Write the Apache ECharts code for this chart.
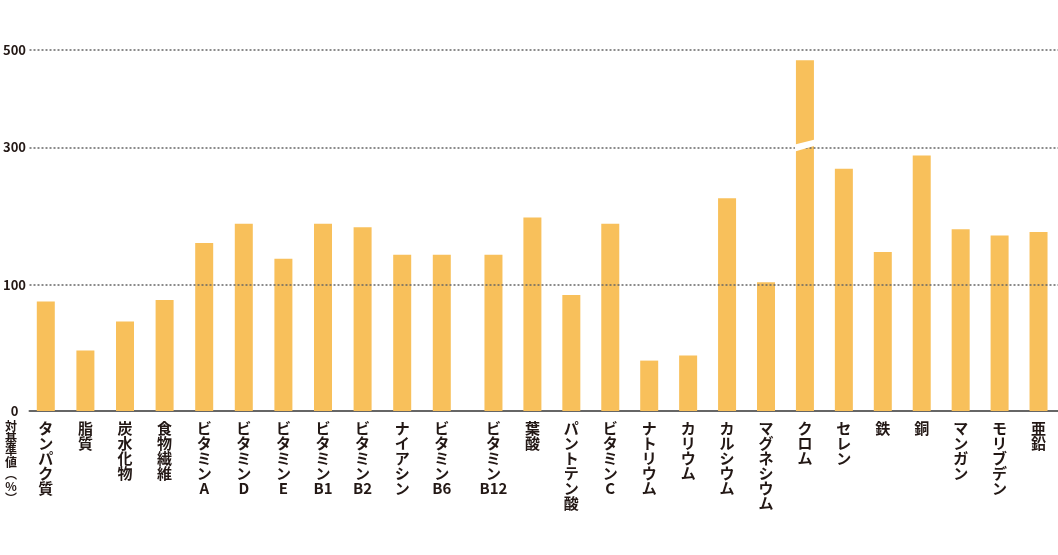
<!DOCTYPE html>
<html><head><meta charset="utf-8">
<script src="https://cdn.jsdelivr.net/npm/echarts@6/dist/echarts.min.js"></script>
<style>html,body{margin:0;padding:0;background:#fff}#c{width:1058px;height:555px}</style>
</head><body><div id="c"></div>
<script>
// ---- data ----
const categories = ['タンパク質','脂質','炭水化物','食物繊維','ビタミンA','ビタミンD','ビタミンE','ビタミンB1','ビタミンB2','ナイアシン','ビタミンB6','ビタミンB12','葉酸','パントテン酸','ビタミンC','ナトリウム','カリウム','カルシウム','マグネシウム','クロム','セレン','鉄','銅','マンガン','モリブデン','亜鉛'];
const values = [87,48,71,88,161,189,138,189,184,144,144,144,198,92,189,40,44,226,104,479,269,148,288,181,172,177];
const yTicks = [0,100,300,500];
const yTitleChars = ['対','基','準','値','︵','%','︶'];
const breakCategory = 'クロム';
const breakEdges = [294,306,303,316]; // bottom-left, top-left, bottom-right, top-right (value units)

// ---- non-linear (piecewise) axis scale of the original chart ----
const scaleAnchors = [0,126,263.7,361];
function tf(v){
  for (let i=1;i<yTicks.length;i++){
    if (v<=yTicks[i] || i===yTicks.length-1){
      const a=yTicks[i-1], b=yTicks[i];
      return scaleAnchors[i-1] + (v-a)/(b-a)*(scaleAnchors[i]-scaleAnchors[i-1]);
    }
  }
}
const splitAt = 11;
const catA = categories.slice(0,splitAt), catB = categories.slice(splitAt);
const valA = values.slice(0,splitAt).map(tf), valB = values.slice(splitAt).map(tf);
const breakIdx = catB.indexOf(breakCategory);

const FONT = '"Noto Sans CJK JP", "Noto Sans", sans-serif';
const TXT = '#231815';
const BAR = '#F8C05B';
const yMax = scaleAnchors[scaleAnchors.length-1];
const labelFmt = name => name.match(/[A-Za-z0-9]+|[^A-Za-z0-9]/g).join('\n');

const xCat = (data, gi) => ({
  type:'category', gridIndex:gi, data:data,
  axisLine:{show:false}, axisTick:{show:false},
  axisLabel:{interval:0, formatter:labelFmt, color:TXT, fontFamily:FONT, fontWeight:'bold',
    fontSize:15, lineHeight:15, margin:10, verticalAlign:'top'}
});
const yHidden = gi => ({type:'value', gridIndex:gi, min:0, max:yMax, show:false, splitLine:{show:false}});

const chart = echarts.init(document.getElementById('c'), null, {renderer:'canvas'});
chart.setOption({
  backgroundColor:'#fff',
  animation:false,
  grid:[
    {left:26, right:0, top:50, bottom:144},
    {left:26, width:435.6, top:50, bottom:144},
    {left:474, right:0, top:50, bottom:144}
  ],
  xAxis:[
    {type:'value', gridIndex:0, min:0, max:1, axisLabel:{show:false}, axisTick:{show:false},
      splitLine:{show:false}, axisLine:{show:true, lineStyle:{color:'#666', width:2}}},
    xCat(catA,1), xCat(catB,2)
  ],
  yAxis:[
    {type:'value', gridIndex:0, min:0, max:yMax,
      axisLine:{show:false}, axisTick:{show:false}, splitLine:{show:false},
      axisLabel:{customValues:scaleAnchors, align:'center', margin:15,
        formatter:v=>{let i=0,d=1e9;scaleAnchors.forEach((a,k)=>{if(Math.abs(a-v)<d){d=Math.abs(a-v);i=k;}});return String(yTicks[i]);},
        color:TXT, fontFamily:FONT, fontWeight:'bold', fontSize:13}},
    yHidden(1), yHidden(2)
  ],
  graphic:[{type:'text', x:11, y:420, z:10,
    style:{text:yTitleChars.join('\n'), fill:TXT, fontSize:12, fontWeight:'bold', fontFamily:FONT,
      lineHeight:12, align:'center', verticalAlign:'top'}}],
  series:[
    {type:'line', xAxisIndex:0, yAxisIndex:0, data:[], z:1, silent:true,
      markLine:{symbol:'none', silent:true, label:{show:false},
        lineStyle:{type:[2,2], color:'#666', width:1.5},
        data:scaleAnchors.slice(1).map(a=>({yAxis:a}))}},
    {type:'bar', xAxisIndex:1, yAxisIndex:1, data:valA, barWidth:18, z:2, itemStyle:{color:BAR}},
    {type:'bar', xAxisIndex:2, yAxisIndex:2, data:valB, barWidth:18, z:2, itemStyle:{color:BAR}},
    {type:'custom', xAxisIndex:2, yAxisIndex:2, z:5, silent:true,
      data:[[breakIdx, breakEdges[0]]],
      renderItem:(params, api)=>{
        const i = api.value(0);
        const bl = api.coord([i, tf(breakEdges[0])]), tl = api.coord([i, tf(breakEdges[1])]);
        const br = api.coord([i, tf(breakEdges[2])]), tr = api.coord([i, tf(breakEdges[3])]);
        const cx = bl[0], h = 10;
        return {type:'polygon', shape:{points:[[cx-h, bl[1]],[cx-h, tl[1]],[cx+h, tr[1]],[cx+h, br[1]]]},
          style:{fill:'#fff'}};
      }}
  ]
});
</script></body></html>
